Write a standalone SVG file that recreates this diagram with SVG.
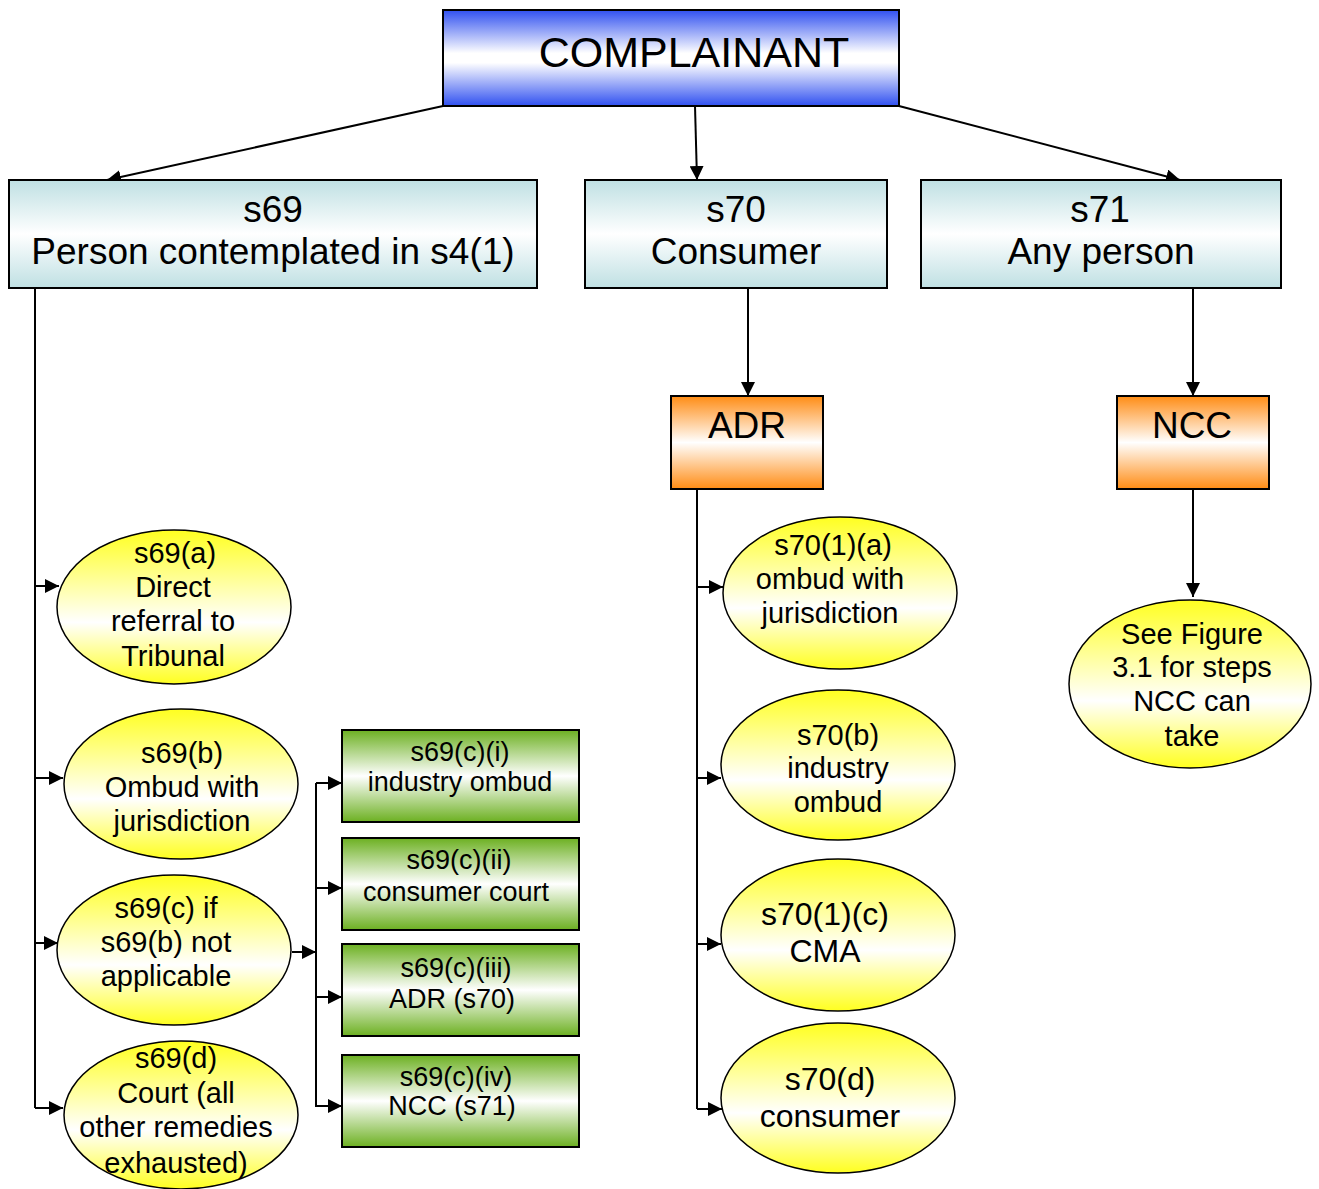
<svg xmlns="http://www.w3.org/2000/svg" width="1319" height="1189" viewBox="0 0 1319 1189">
<style>
text{font-family:"Liberation Sans",Arial,sans-serif;fill:#000;text-anchor:middle}
.box{stroke:#000;stroke-width:2}
.ell{fill:url(#gy);stroke:#000;stroke-width:1.5}
.con{fill:none;stroke:#000;stroke-width:2}
.t40{font-size:43px}.t34{font-size:37px}.t26{font-size:29px}.t25{font-size:27px}.t28{font-size:32px}
</style>
<defs>
<linearGradient id="gb" x1="0" y1="0" x2="0" y2="1"><stop offset="0" stop-color="#3050f0"/><stop offset="0.45" stop-color="#ffffff"/><stop offset="0.55" stop-color="#ffffff"/><stop offset="1" stop-color="#3050f0"/></linearGradient>
<linearGradient id="gc" x1="0" y1="0" x2="0" y2="1"><stop offset="0" stop-color="#bfe0e3"/><stop offset="0.5" stop-color="#ffffff"/><stop offset="1" stop-color="#bfe0e3"/></linearGradient>
<linearGradient id="go" x1="0" y1="0" x2="0" y2="1"><stop offset="0" stop-color="#ff8c14"/><stop offset="0.5" stop-color="#ffffff"/><stop offset="1" stop-color="#ff8c14"/></linearGradient>
<linearGradient id="gg" x1="0" y1="0" x2="0" y2="1"><stop offset="0" stop-color="#6cb021"/><stop offset="0.5" stop-color="#ffffff"/><stop offset="1" stop-color="#6cb021"/></linearGradient>
<linearGradient id="gy" x1="0" y1="0" x2="0" y2="1"><stop offset="0" stop-color="#ffff20"/><stop offset="0.6" stop-color="#ffffff"/><stop offset="1" stop-color="#ffff20"/></linearGradient>
<marker id="arL" viewBox="0 0 10 10" refX="10" refY="5" markerWidth="14" markerHeight="14" orient="auto" markerUnits="userSpaceOnUse"><path d="M0,0 L10,5 L0,10 z" fill="#000"/></marker>
</defs>

<g id="connectors">
<path class="con" d="M443,106 L107,180" marker-end="url(#arL)"/>
<path class="con" d="M695,106 L697,180" marker-end="url(#arL)"/>
<path class="con" d="M899,106 L1180,180" marker-end="url(#arL)"/>
<path class="con" d="M748,288 L748,396" marker-end="url(#arL)"/>
<path class="con" d="M1193,288 L1193,396" marker-end="url(#arL)"/>
<path class="con" d="M1193,489 L1193,597" marker-end="url(#arL)"/>
<path class="con" d="M35,288 L35,1108"/>
<path class="con" d="M35,586 L59,586" marker-end="url(#arL)"/>
<path class="con" d="M35,778 L63,778" marker-end="url(#arL)"/>
<path class="con" d="M35,943 L58,943" marker-end="url(#arL)"/>
<path class="con" d="M35,1108 L63,1108" marker-end="url(#arL)"/>
<path class="con" d="M292,952 L316,952" marker-end="url(#arL)"/>
<path class="con" d="M316,783 L316,1107"/>
<path class="con" d="M316,783 L342,783" marker-end="url(#arL)"/>
<path class="con" d="M316,888 L342,888" marker-end="url(#arL)"/>
<path class="con" d="M316,997 L342,997" marker-end="url(#arL)"/>
<path class="con" d="M316,1106 L342,1106" marker-end="url(#arL)"/>
<path class="con" d="M697,489 L697,1109"/>
<path class="con" d="M697,587 L723,587" marker-end="url(#arL)"/>
<path class="con" d="M697,778 L721,778" marker-end="url(#arL)"/>
<path class="con" d="M697,944 L721,944" marker-end="url(#arL)"/>
<path class="con" d="M697,1109 L722,1109" marker-end="url(#arL)"/>
</g>

<g id="complainant">
<rect class="box" x="443" y="10" width="456" height="96" fill="url(#gb)"/>
<text class="t40" x="694" y="67">COMPLAINANT</text>
</g>
<g id="s69">
<rect class="box" x="9" y="180" width="528" height="108" fill="url(#gc)"/>
<text class="t34" x="273" y="222">s69</text>
<text class="t34" x="273" y="264">Person contemplated in s4(1)</text>
</g>
<g id="s70">
<rect class="box" x="585" y="180" width="302" height="108" fill="url(#gc)"/>
<text class="t34" x="736" y="222">s70</text>
<text class="t34" x="736" y="264">Consumer</text>
</g>
<g id="s71">
<rect class="box" x="921" y="180" width="360" height="108" fill="url(#gc)"/>
<text class="t34" x="1100" y="222">s71</text>
<text class="t34" x="1101" y="264">Any person</text>
</g>
<g id="adr">
<rect class="box" x="671" y="396" width="152" height="93" fill="url(#go)"/>
<text class="t34" x="747" y="438">ADR</text>
</g>
<g id="ncc">
<rect class="box" x="1117" y="396" width="152" height="93" fill="url(#go)"/>
<text class="t34" x="1192" y="438">NCC</text>
</g>

<g id="s69a">
<ellipse class="ell" cx="174" cy="607" rx="117" ry="77"/>
<text class="t26" x="175" y="563">s69(a)</text>
<text class="t26" x="173" y="597">Direct</text>
<text class="t26" x="173" y="631">referral to</text>
<text class="t26" x="173" y="666">Tribunal</text>
</g>
<g id="s69b">
<ellipse class="ell" cx="181" cy="784" rx="117" ry="75"/>
<text class="t26" x="182" y="763">s69(b)</text>
<text class="t26" x="182" y="797">Ombud with</text>
<text class="t26" x="182" y="831">jurisdiction</text>
</g>
<g id="s69c">
<ellipse class="ell" cx="174" cy="950" rx="117" ry="75"/>
<text class="t26" x="166" y="918">s69(c) if</text>
<text class="t26" x="166" y="952">s69(b) not</text>
<text class="t26" x="166" y="986">applicable</text>
</g>
<g id="s69d">
<ellipse class="ell" cx="181" cy="1115" rx="117" ry="74"/>
<text class="t26" x="176" y="1068">s69(d)</text>
<text class="t26" x="176" y="1103">Court (all</text>
<text class="t26" x="176" y="1137">other remedies</text>
<text class="t26" x="176" y="1173">exhausted)</text>
</g>

<g id="s69ci">
<rect class="box" x="342" y="730" width="237" height="92" fill="url(#gg)"/>
<text class="t25" x="460" y="761">s69(c)(i)</text>
<text class="t25" x="460" y="791">industry ombud</text>
</g>
<g id="s69cii">
<rect class="box" x="342" y="838" width="237" height="92" fill="url(#gg)"/>
<text class="t25" x="459" y="869">s69(c)(ii)</text>
<text class="t25" x="456" y="901">consumer court</text>
</g>
<g id="s69ciii">
<rect class="box" x="342" y="944" width="237" height="92" fill="url(#gg)"/>
<text class="t25" x="456" y="977">s69(c)(iii)</text>
<text class="t25" x="452" y="1008">ADR (s70)</text>
</g>
<g id="s69civ">
<rect class="box" x="342" y="1055" width="237" height="92" fill="url(#gg)"/>
<text class="t25" x="456" y="1086">s69(c)(iv)</text>
<text class="t25" x="452" y="1115">NCC (s71)</text>
</g>

<g id="s701a">
<ellipse class="ell" cx="840" cy="593" rx="117" ry="76"/>
<text class="t26" x="833" y="555">s70(1)(a)</text>
<text class="t26" x="830" y="589">ombud with</text>
<text class="t26" x="830" y="623">jurisdiction</text>
</g>
<g id="s70b">
<ellipse class="ell" cx="838" cy="765" rx="117" ry="75"/>
<text class="t26" x="838" y="745">s70(b)</text>
<text class="t26" x="838" y="778">industry</text>
<text class="t26" x="838" y="812">ombud</text>
</g>
<g id="s701c">
<ellipse class="ell" cx="838" cy="935" rx="117" ry="76"/>
<text class="t28" x="825" y="925">s70(1)(c)</text>
<text class="t28" x="825" y="962">CMA</text>
</g>
<g id="s70d">
<ellipse class="ell" cx="838" cy="1098" rx="117" ry="75"/>
<text class="t28" x="830" y="1090">s70(d)</text>
<text class="t28" x="830" y="1127">consumer</text>
</g>
<g id="ncc-steps">
<ellipse class="ell" cx="1190" cy="684" rx="121" ry="84"/>
<text class="t26" x="1192" y="644">See Figure</text>
<text class="t26" x="1192" y="677">3.1 for steps</text>
<text class="t26" x="1192" y="711">NCC can</text>
<text class="t26" x="1192" y="746">take</text>
</g>
</svg>
